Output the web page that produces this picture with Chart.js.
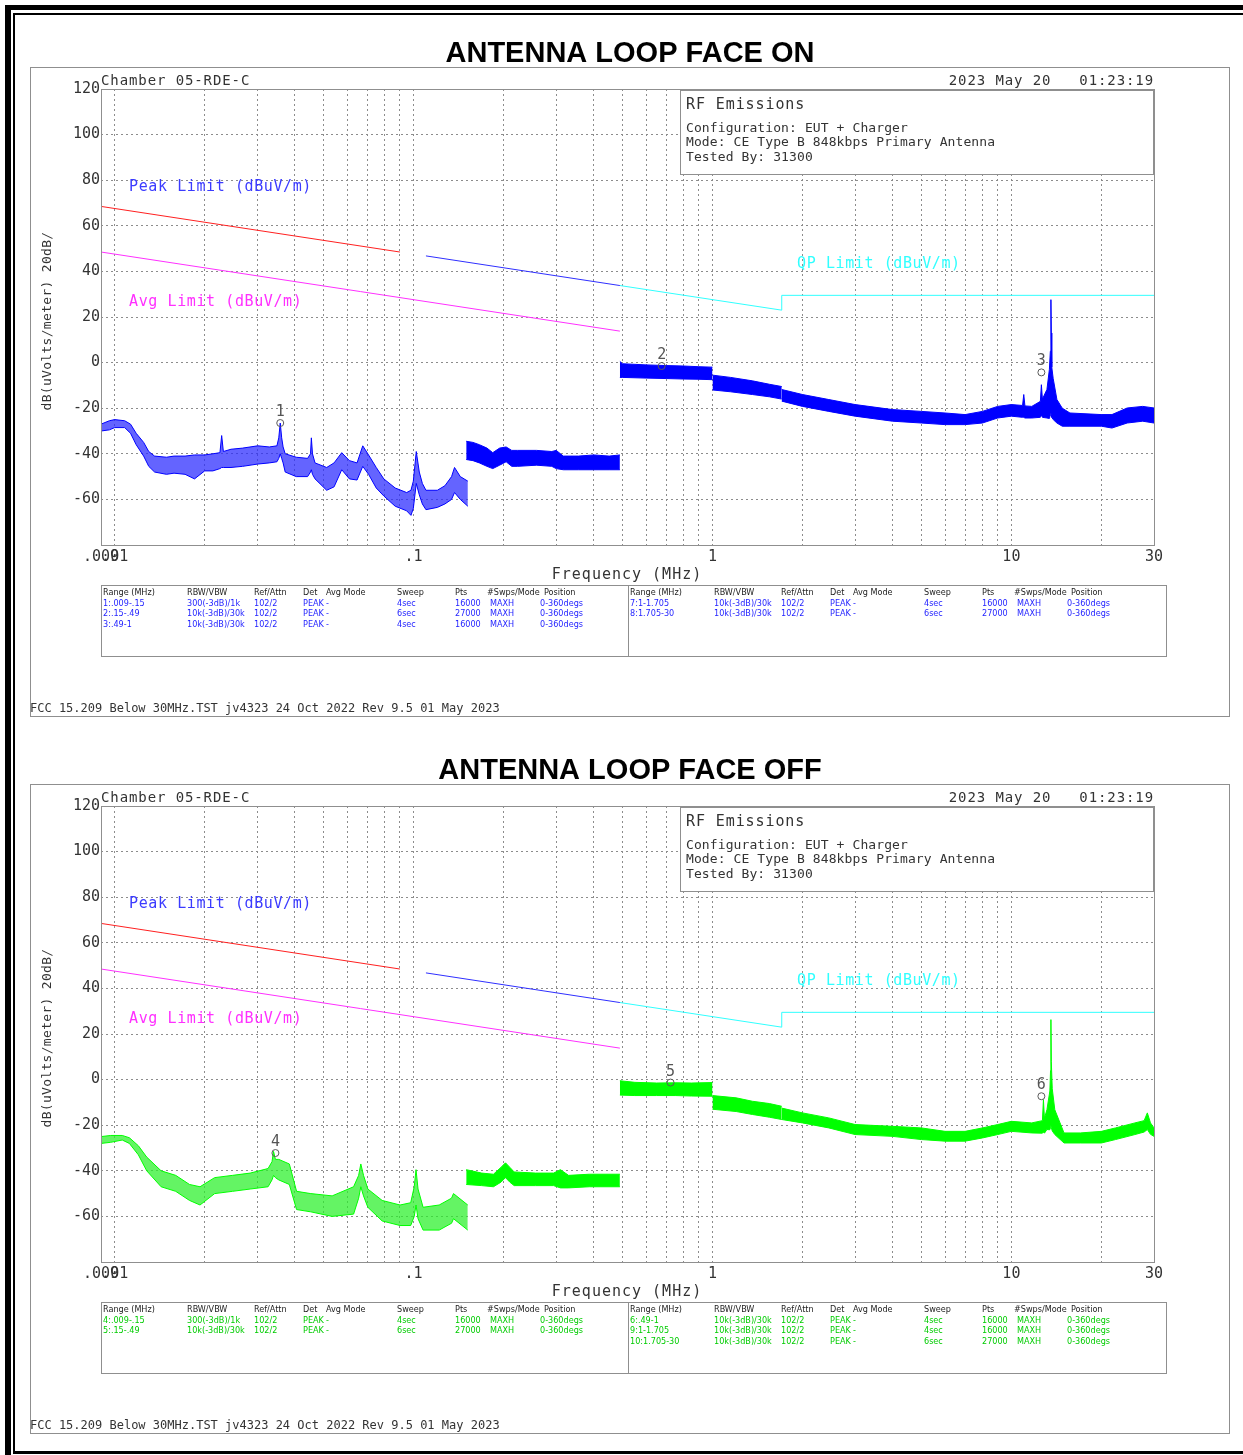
<!DOCTYPE html>
<html>
<head>
<meta charset="utf-8">
<title>Antenna Loop Emissions</title>
<script src="https://cdn.jsdelivr.net/npm/chart.js@4/dist/chart.umd.min.js"></script>
<style>
  html, body { margin: 0; padding: 0; background: #fff; width: 1243px; height: 1455px; overflow: hidden; }
  .panel { position: absolute; left: 0; width: 1243px; height: 717px; }
  .bar { position: absolute; background: #000; }
</style>
</head>
<body>
<div class="panel" style="top:0"><canvas id="faceOn" width="1243" height="717"></canvas></div>
<div class="panel" style="top:717px"><canvas id="faceOff" width="1243" height="717"></canvas></div>
<!-- page frame -->
<div class="bar" style="left:5px;top:5px;width:6px;height:1450px"></div>
<div class="bar" style="left:5px;top:5px;width:1238px;height:5px"></div>
<div class="bar" style="left:13px;top:13px;width:2px;height:1440px"></div>
<div class="bar" style="left:13px;top:13px;width:1230px;height:2px"></div>
<div class="bar" style="left:13px;top:1451px;width:1230px;height:3px"></div>
<script>
// ---------- axis labels ----------
const freqTickLabels = [[0.009, '.009'], [0.01, '.01'], [0.1, '.1'], [1, '1'], [10, '10'], [30, '30']];
const levelMin = -80, levelMax = 120, levelStep = 20;

// ---------- FCC 15.209 limit lines (MHz, dBuV/m) ----------
const peakLimitLow  = [[0.009, 68.5], [0.09, 48.5]];
const peakLimitHigh = [[0.11, 46.8], [0.49, 33.8]];
const avgLimit      = [[0.009, 48.5], [0.49, 13.8]];
const qpLimit       = [[0.49, 33.8], [1.705, 23.0], [1.705, 29.5], [30, 29.5]];

// ---------- face-on sweep: [MHz, max dB, min dB] per range ----------
const onRange1 = [
  [0.0090, -27.0, -30.0], [0.0096, -25.5, -29.5], [0.0100, -25.0, -28.5], [0.0108, -25.5, -28.5],
  [0.0113, -27.0, -31.0], [0.0118, -31.0, -36.0], [0.0125, -35.0, -41.0], [0.0130, -39.0, -45.5],
  [0.0136, -41.0, -48.0], [0.0149, -41.5, -49.0], [0.0158, -41.0, -48.5], [0.0172, -41.0, -49.0],
  [0.0185, -40.5, -51.0], [0.0200, -40.5, -47.5], [0.0213, -40.0, -47.5], [0.0225, -39.5, -46.5],
  [0.0228, -32.0, -46.0], [0.0231, -39.0, -46.0], [0.0245, -38.0, -46.0], [0.0268, -37.5, -45.5],
  [0.0301, -36.5, -44.5], [0.0329, -37.0, -44.0], [0.0349, -36.5, -43.5], [0.0354, -33.0, -42.0],
  [0.0358, -26.5, -40.0], [0.0362, -33.0, -42.0], [0.0366, -37.0, -44.0], [0.0372, -40.0, -48.0],
  [0.0405, -41.5, -50.0], [0.0442, -42.0, -50.0], [0.0452, -40.0, -48.0], [0.0455, -33.0, -47.0],
  [0.0459, -40.0, -49.0], [0.0468, -44.0, -51.0], [0.0512, -46.0, -56.0], [0.0542, -44.0, -54.5],
  [0.0575, -39.5, -47.0], [0.0610, -43.0, -51.0], [0.0647, -44.0, -51.5], [0.0676, -36.5, -45.5],
  [0.0707, -40.5, -49.0], [0.0750, -46.0, -55.0], [0.0795, -51.0, -58.5], [0.0868, -55.0, -63.0],
  [0.0948, -57.0, -65.0], [0.0980, -56.0, -67.0], [0.0998, -52.0, -64.0], [0.1021, -39.0, -53.0],
  [0.1045, -48.0, -58.0], [0.1070, -53.0, -62.0], [0.1100, -56.0, -64.5], [0.1201, -56.0, -63.5],
  [0.1273, -54.0, -62.0], [0.1340, -50.0, -60.0], [0.1371, -46.0, -57.0], [0.1433, -50.0, -60.0],
  [0.1519, -52.0, -63.0]
];
const onRange2 = [
  [0.150, -34.5, -42.5], [0.158, -35.0, -43.0], [0.166, -36.0, -44.0], [0.176, -37.5, -45.5],
  [0.184, -39.5, -46.5], [0.194, -37.5, -45.0], [0.204, -37.0, -43.5], [0.213, -38.5, -45.5],
  [0.223, -38.5, -45.5], [0.258, -38.5, -45.0], [0.290, -39.0, -45.5], [0.300, -38.5, -46.5],
  [0.317, -41.0, -47.0], [0.356, -41.0, -47.0], [0.401, -40.5, -47.0], [0.451, -41.0, -47.0],
  [0.490, -40.5, -47.0]
];
const onRange3 = [
  [0.490, 0.5, -6.5], [0.500, -0.5, -6.5], [0.600, -1.0, -6.8], [0.700, -1.3, -7.0],
  [0.800, -1.5, -7.2], [0.900, -1.8, -7.3], [1.000, -2.0, -7.5]
];
const onRange7 = [
  [1.000, -5.5, -12.0], [1.150, -6.5, -12.8], [1.360, -8.0, -14.0], [1.550, -9.5, -15.0],
  [1.705, -10.5, -16.0]
];
const onRange8 = [
  [1.705, -11.8, -16.9], [2.00, -14.0, -19.2], [2.45, -16.2, -21.4], [3.00, -18.4, -23.5],
  [4.00, -20.6, -25.7], [5.00, -21.4, -26.5], [6.00, -22.1, -27.2], [7.00, -22.8, -27.2],
  [8.00, -21.4, -26.5], [9.00, -19.2, -24.3], [10.0, -18.4, -23.5], [10.9, -18.8, -24.0],
  [11.0, -14.0, -24.0], [11.1, -19.0, -24.3], [11.7, -19.2, -24.3], [12.5, -17.0, -24.0],
  [12.6, -9.7, -23.0], [12.7, -16.0, -24.0], [13.15, -11.8, -24.3], [13.40, -3.0, -24.5],
  [13.50, 5.0, -23.0], [13.56, 27.6, -22.0], [13.60, 13.0, -23.0], [13.65, -2.0, -24.0],
  [13.80, -7.0, -25.0], [14.20, -16.2, -26.5], [14.80, -20.0, -27.9], [15.7, -22.1, -27.9],
  [20.0, -22.8, -27.9], [21.7, -22.8, -28.7], [24.4, -19.9, -26.5], [27.5, -19.2, -25.7],
  [30.0, -19.9, -26.5]
];
const onMarkers = [['1', 0.0358, -26.5], ['2', 0.676, -1.5], ['3', 12.6, -4.3]];

// ---------- face-off sweep: [MHz, max dB, min dB] per range ----------
const offRange4 = [
  [0.0090, -25.0, -28.0], [0.0097, -24.5, -27.5], [0.0106, -24.5, -26.5], [0.0112, -25.5, -28.0],
  [0.0120, -29.0, -33.0], [0.0128, -34.0, -40.0], [0.0143, -40.0, -47.0], [0.0160, -42.0, -49.0],
  [0.0178, -46.0, -53.0], [0.0193, -47.0, -55.0], [0.0216, -43.0, -50.0], [0.0248, -42.0, -49.0],
  [0.0284, -41.0, -48.0], [0.0326, -39.0, -47.0], [0.0336, -36.0, -44.0], [0.0340, -31.5, -42.0],
  [0.0345, -35.0, -43.0], [0.0354, -35.0, -44.0], [0.0384, -37.0, -46.0], [0.0406, -49.0, -57.0],
  [0.0453, -50.0, -58.0], [0.0534, -51.0, -60.0], [0.0630, -47.0, -59.0], [0.0655, -42.0, -52.0],
  [0.0666, -37.0, -47.0], [0.0680, -42.0, -51.0], [0.0703, -48.0, -56.0], [0.0785, -53.0, -62.0],
  [0.0901, -55.0, -64.0], [0.0978, -54.0, -64.0], [0.1005, -47.0, -60.0], [0.1019, -39.5, -55.0],
  [0.1035, -48.0, -61.0], [0.1076, -56.0, -66.0], [0.1218, -55.0, -66.0], [0.1340, -52.0, -63.0],
  [0.1360, -50.0, -61.0], [0.1518, -55.0, -66.0]
];
const offRange5 = [
  [0.150, -39.5, -46.0], [0.169, -41.0, -46.5], [0.185, -41.5, -47.0], [0.196, -38.5, -45.0],
  [0.203, -36.5, -43.0], [0.210, -38.5, -45.0], [0.217, -40.5, -46.5], [0.256, -41.0, -46.5],
  [0.294, -41.0, -46.5], [0.310, -39.5, -47.5], [0.330, -42.0, -47.5], [0.387, -41.5, -47.0],
  [0.490, -41.5, -47.0]
];
const offRange6 = [
  [0.490, -0.5, -6.8], [0.550, -1.2, -7.0], [0.650, -1.5, -7.0], [0.750, -1.4, -7.0],
  [0.850, -1.5, -7.2], [1.000, -1.3, -7.3]
];
const offRange9 = [
  [1.000, -7.0, -13.0], [1.200, -8.0, -14.0], [1.360, -9.5, -15.3], [1.550, -10.5, -16.5],
  [1.705, -11.7, -17.5]
];
const offRange10 = [
  [1.705, -12.5, -17.5], [2.00, -14.6, -19.0], [2.45, -16.8, -21.2], [3.00, -19.7, -24.1],
  [4.00, -20.5, -24.9], [5.00, -21.2, -26.3], [6.00, -22.7, -27.0], [7.00, -22.7, -27.0],
  [8.00, -21.2, -25.6], [9.00, -19.7, -24.1], [10.0, -18.3, -22.7], [11.7, -19.0, -23.4],
  [12.7, -18.0, -23.5], [12.8, -8.8, -23.0], [12.9, -17.0, -23.5], [13.15, -13.2, -21.9],
  [13.45, -5.0, -22.0], [13.52, 4.0, -21.0], [13.56, 26.3, -20.0], [13.60, 8.0, -21.0],
  [13.70, -4.0, -22.5], [13.97, -13.2, -24.1], [15.0, -23.4, -27.8], [17.0, -23.4, -27.8],
  [20.0, -22.7, -27.8], [22.3, -21.2, -26.3], [25.9, -19.0, -24.1], [27.8, -18.0, -23.0],
  [28.5, -14.6, -21.9], [29.2, -19.0, -24.0], [30.0, -21.2, -24.9]
];
const offMarkers = [['4', 0.0345, -32.2], ['5', 0.724, -1.3], ['6', 12.6, -7.3]];

// ---------- page text ----------
const infoLines = ['Configuration: EUT + Charger', 'Mode: CE Type B 848kbps Primary Antenna', 'Tested By: 31300'];
const tableHeader = ['Range (MHz)', 'RBW/VBW', 'Ref/Attn', 'Det', 'Avg Mode', 'Sweep', 'Pts', '#Swps/Mode', 'Position'];
const onTableLeft = [
  ['1:.009-.15', '300(-3dB)/1k', '102/2', 'PEAK', '-', '4sec', '16000', 'MAXH', '0-360degs'],
  ['2:.15-.49', '10k(-3dB)/30k', '102/2', 'PEAK', '-', '6sec', '27000', 'MAXH', '0-360degs'],
  ['3:.49-1', '10k(-3dB)/30k', '102/2', 'PEAK', '-', '4sec', '16000', 'MAXH', '0-360degs']
];
const onTableRight = [
  ['7:1-1.705', '10k(-3dB)/30k', '102/2', 'PEAK', '-', '4sec', '16000', 'MAXH', '0-360degs'],
  ['8:1.705-30', '10k(-3dB)/30k', '102/2', 'PEAK', '-', '6sec', '27000', 'MAXH', '0-360degs']
];
const offTableLeft = [
  ['4:.009-.15', '300(-3dB)/1k', '102/2', 'PEAK', '-', '4sec', '16000', 'MAXH', '0-360degs'],
  ['5:.15-.49', '10k(-3dB)/30k', '102/2', 'PEAK', '-', '6sec', '27000', 'MAXH', '0-360degs']
];
const offTableRight = [
  ['6:.49-1', '10k(-3dB)/30k', '102/2', 'PEAK', '-', '4sec', '16000', 'MAXH', '0-360degs'],
  ['9:1-1.705', '10k(-3dB)/30k', '102/2', 'PEAK', '-', '4sec', '16000', 'MAXH', '0-360degs'],
  ['10:1.705-30', '10k(-3dB)/30k', '102/2', 'PEAK', '-', '6sec', '27000', 'MAXH', '0-360degs']
];

// ---------- styling ----------
const MONO = "'DejaVu Sans Mono', 'Liberation Mono', monospace";
const BOLD = "'Liberation Sans', Arial, Helvetica, sans-serif";
const NARROW = "'DejaVu Sans Condensed', 'Liberation Sans Narrow', sans-serif";
const GRID = '#8c8c8c';
const FRAME = '#8f8f8f';

// log grid: every 1..9 multiple between 9 kHz and 30 MHz
const gridFreqs = [];
[0.001, 0.01, 0.1, 1, 10].forEach(d => {
  for (let m = 1; m <= 9; m++) {
    const v = Number((m * d).toPrecision(3));
    if (v >= 0.009 && v <= 30) gridFreqs.push(v);
  }
});
if (!gridFreqs.includes(30)) gridFreqs.push(30);

function freqLabel(v) {
  const t = freqTickLabels.find(p => Math.abs(p[0] - v) / p[0] < 1e-6);
  return t ? t[1] : '';
}

function text(ctx, s, x, y, font, color, align, spacing) {
  ctx.save();
  ctx.font = font;
  ctx.fillStyle = color;
  ctx.textAlign = align || 'left';
  ctx.textBaseline = 'alphabetic';
  if ('letterSpacing' in ctx) ctx.letterSpacing = (spacing || 0) + 'px';
  ctx.fillText(s, x, y);
  ctx.restore();
}

const colX = [2, 86, 153, 202, 225, 296, 354, 386, 443];
const rowX = [2, 86, 153, 202, 225, 296, 354, 389, 439];

function drawTable(ctx, left, rows, color) {
  const f = `9px ${NARROW}`;
  tableHeader.forEach((h, i) => text(ctx, h, left + colX[i], 595, f, '#222', 'left'));
  rows.forEach((r, k) => r.forEach((c, i) => text(ctx, c, left + rowX[i], 605.8 + k * 10.6, f, color, 'left')));
}

function drawPanel(chart, cfg) {
  const ctx = chart.ctx;
  const a = chart.chartArea;
  ctx.save();
  ctx.lineWidth = 1;
  ctx.strokeStyle = FRAME;
  ctx.strokeRect(30.5, 67.5, 1199, 649);

  text(ctx, cfg.title, 630, 62, `bold 29px ${BOLD}`, '#000', 'center');
  text(ctx, 'Chamber 05-RDE-C', 101, 85, `14px ${MONO}`, '#333', 'left', 0.9);
  text(ctx, '2023 May 20   01:23:19', 1154, 85, `14px ${MONO}`, '#333', 'right', 0.9);

  // info box
  ctx.fillStyle = '#fff';
  ctx.fillRect(680, 90, 474, 85);
  ctx.strokeStyle = FRAME;
  ctx.strokeRect(680.5, 90.5, 473, 84);
  text(ctx, 'RF Emissions', 686, 109, `15px ${MONO}`, '#333', 'left', 0.9);
  infoLines.forEach((s, i) => text(ctx, s, 686, 132 + i * 14.3, `13px ${MONO}`, '#333', 'left', 0.1));

  // limit captions
  text(ctx, 'Peak Limit (dBuV/m)', 129, 191, `15px ${MONO}`, '#3b3bff', 'left', 0.6);
  text(ctx, 'Avg Limit (dBuV/m)', 129, 306, `15px ${MONO}`, '#ff30ff', 'left', 0.6);
  text(ctx, 'QP Limit (dBuV/m)', 797, 268, `15px ${MONO}`, '#30ffff', 'left', 0.6);

  // plot frame
  ctx.strokeStyle = FRAME;
  const L = Math.round(a.left) + 0.5, T = Math.round(a.top) + 0.5;
  ctx.strokeRect(L, T, Math.round(a.right) - Math.round(a.left), Math.round(a.bottom) - Math.round(a.top));

  // axis titles
  ctx.save();
  ctx.translate(46, 321);
  ctx.rotate(-Math.PI / 2);
  text(ctx, 'dB(uVolts/meter) 20dB/', 0, 5, `13px ${MONO}`, '#333', 'center', 0.3);
  ctx.restore();
  text(ctx, 'Frequency (MHz)', 627, 579, `15px ${MONO}`, '#333', 'center', 1);

  // marker numbers above their symbols
  const meta = chart.getDatasetMeta(0);
  meta.data.forEach((pt, i) => text(ctx, cfg.markers[i][0], pt.x, pt.y - 7, `15px ${MONO}`, '#555', 'center'));

  // sweep settings table
  ctx.strokeStyle = FRAME;
  ctx.strokeRect(101.5, 585.5, 1065, 71);
  ctx.beginPath();
  ctx.moveTo(628.5, 585.5);
  ctx.lineTo(628.5, 656.5);
  ctx.stroke();
  drawTable(ctx, 101, cfg.tableLeft, cfg.tableColor);
  drawTable(ctx, 628, cfg.tableRight, cfg.tableColor);

  text(ctx, 'FCC 15.209 Below 30MHz.TST jv4323 24 Oct 2022 Rev 9.5 01 May 2023', 30, 712, `12px ${MONO}`, '#333', 'left');
  ctx.restore();
}

function line(points, color) {
  return { data: points.map(p => ({ x: p[0], y: p[1] })), borderColor: color, borderWidth: 1,
           pointRadius: 0, fill: false, tension: 0 };
}

function makeChart(id, cfg) {
  const datasets = [];
  datasets.push({
    data: cfg.markers.map(m => ({ x: m[1], y: m[2] })), showLine: false,
    pointStyle: 'circle', pointRadius: 3.5, pointBorderWidth: 1,
    pointBorderColor: '#5a5a5a', pointBackgroundColor: 'rgba(0,0,0,0)', borderColor: '#5a5a5a'
  });
  datasets.push(line(peakLimitLow, '#ff2020'));
  datasets.push(line(peakLimitHigh, '#2f2fff'));
  datasets.push(line(avgLimit, '#ff30ff'));
  datasets.push(line(qpLimit, '#30ffff'));
  cfg.ranges.forEach((seg, i) => {
    const fillColor = i === 0 ? cfg.softColor : cfg.color;
    datasets.push({ data: seg.map(p => ({ x: p[0], y: p[2] })), borderColor: cfg.color, borderWidth: 1,
                    pointRadius: 0, fill: false, tension: 0 });
    datasets.push({ data: seg.map(p => ({ x: p[0], y: p[1] })), borderColor: cfg.color, borderWidth: 1,
                    backgroundColor: fillColor, pointRadius: 0, fill: '-1', tension: 0 });
  });

  return new Chart(document.getElementById(id), {
    type: 'line',
    data: { datasets },
    options: {
      responsive: false,
      animation: false,
      devicePixelRatio: 1,
      events: [],
      layout: { padding: { left: 0, right: 89, top: 89, bottom: 0 } },
      plugins: { legend: { display: false }, tooltip: { enabled: false } },
      scales: {
        x: {
          type: 'logarithmic', min: 0.009, max: 30,
          afterBuildTicks: s => { s.ticks = gridFreqs.map(v => ({ value: v })); },
          afterFit: s => { s.height = 172; },
          ticks: { autoSkip: false, maxRotation: 0, minRotation: 0, padding: 3, color: '#333',
                   font: { family: MONO, size: 15 }, callback: v => freqLabel(v) },
          grid: { color: GRID, lineWidth: 1, drawTicks: false },
          border: { display: false, dash: [2, 3] }
        },
        y: {
          min: levelMin, max: levelMax,
          afterFit: s => { s.width = 101; },
          ticks: { stepSize: levelStep, padding: 1, color: '#333', font: { family: MONO, size: 15 },
                   callback: v => (v === levelMin ? '' : String(v)) },
          grid: { color: GRID, lineWidth: 1, drawTicks: false },
          border: { display: false, dash: [2, 3] }
        }
      }
    },
    plugins: [{ id: 'panelDecor', afterDraw: chart => drawPanel(chart, cfg) }]
  });
}

makeChart('faceOn', {
  title: 'ANTENNA LOOP FACE ON',
  ranges: [onRange1, onRange2, onRange3, onRange7, onRange8],
  markers: onMarkers,
  color: '#0000ff', softColor: 'rgba(40,40,255,0.72)',
  tableLeft: onTableLeft, tableRight: onTableRight, tableColor: '#1e1eff'
});
makeChart('faceOff', {
  title: 'ANTENNA LOOP FACE OFF',
  ranges: [offRange4, offRange5, offRange6, offRange9, offRange10],
  markers: offMarkers,
  color: '#00ff00', softColor: 'rgba(40,240,40,0.72)',
  tableLeft: offTableLeft, tableRight: offTableRight, tableColor: '#00cc00'
});
</script>
</body>
</html>
